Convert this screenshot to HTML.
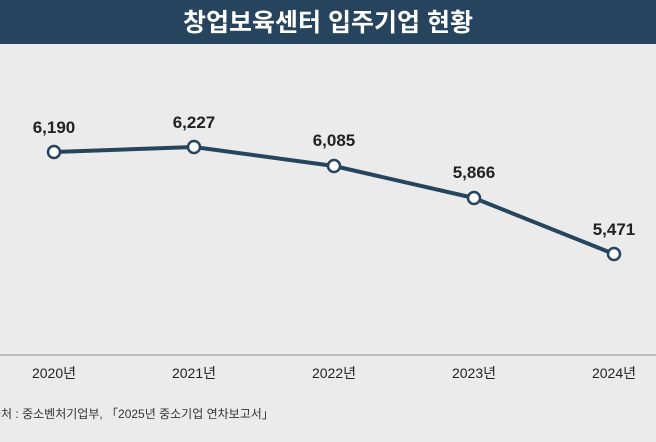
<!DOCTYPE html>
<html><head><meta charset="utf-8"><style>
body{margin:0;width:656px;height:437px;background:#ebebeb;overflow:hidden;font-family:"Liberation Sans","Noto Sans CJK KR",sans-serif}
</style></head><body>
<svg width="656" height="437" xmlns="http://www.w3.org/2000/svg" font-family="Liberation Sans, Noto Sans CJK KR, sans-serif">
<rect width="656" height="437" fill="#ebebeb"/>
<rect width="656" height="44" fill="#27445f"/>
<text x="328" y="31" text-anchor="middle" font-size="25" font-weight="bold" fill="#fff">창업보육센터 입주기업 현황</text>
<line x1="0" y1="355" x2="656" y2="355" stroke="#bdbdbd" stroke-width="2"/>
<polyline points="54,152 194,147 334,166 474,198 614,254" fill="none" stroke="#27445f" stroke-width="4" stroke-linejoin="round"/>
<g fill="#fff" stroke="#27445f" stroke-width="2.5">
<circle cx="54" cy="152" r="6"/><circle cx="194" cy="147" r="6"/><circle cx="334" cy="166" r="6"/><circle cx="474" cy="198" r="6"/><circle cx="614" cy="254" r="6"/>
</g>
<g font-size="17" font-weight="bold" fill="#222" text-anchor="middle">
<text x="54" y="133">6,190</text><text x="194" y="128">6,227</text><text x="334" y="146">6,085</text><text x="474" y="178">5,866</text><text x="614" y="235">5,471</text>
</g>
<g font-size="14" fill="#222" text-anchor="middle">
<text x="54" y="378">2020년</text><text x="194" y="378">2021년</text><text x="334" y="378">2022년</text><text x="474" y="378">2023년</text><text x="614" y="378">2024년</text>
</g>
<text x="-10" y="418" font-size="12" fill="#333">출처 : 중소벤처기업부, 「2025년 중소기업 연차보고서」</text>
</svg>
</body></html>
